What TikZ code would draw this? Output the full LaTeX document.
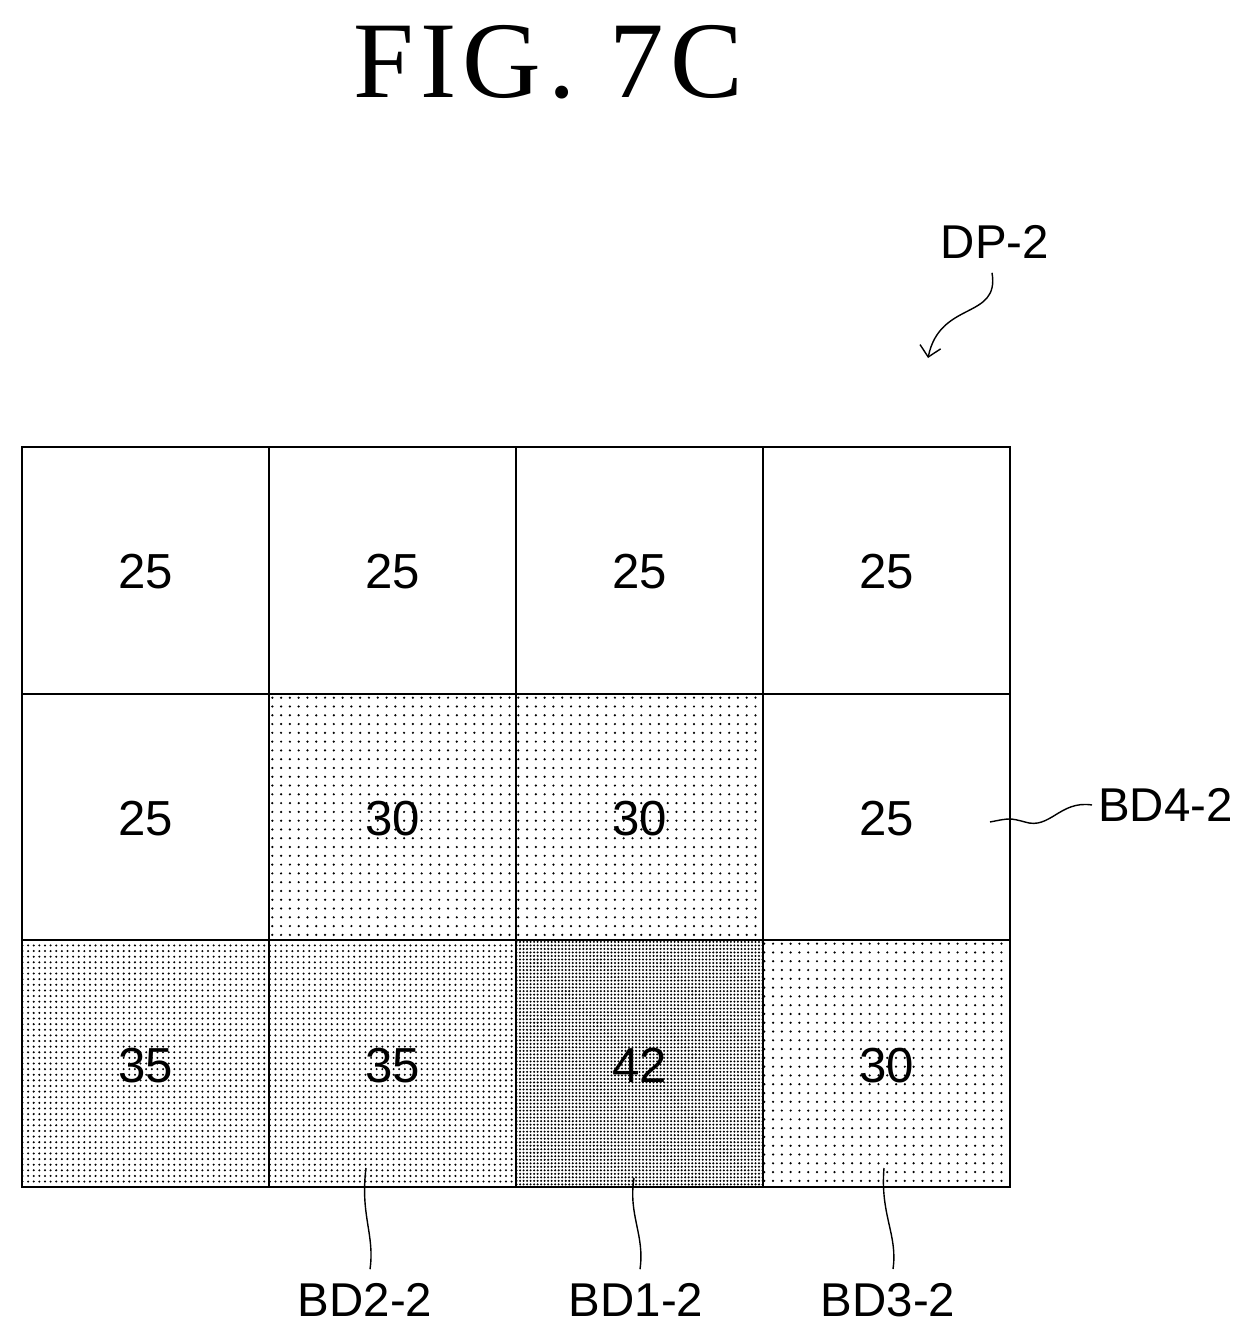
\documentclass[tikz,border=0pt]{standalone}
\usepackage{fontspec}
\setmainfont{Liberation Sans}
\newfontfamily\figfont[LetterSpace=6]{Liberation Serif}
\usetikzlibrary{patterns.meta,arrows.meta}
\begin{document}
\begin{tikzpicture}[
 x=0.02cm, y=-0.02cm,
 cell/.style={draw=black, line width=1.2pt},
 num/.style={font=\fontsize{28}{30}\selectfont},
 lbl/.style={font=\fontsize{27}{30}\selectfont},
 plain/.style={},
 sparse/.style={pattern={Dots[distance=5pt, radius=0.7pt]}},
 medium/.style={pattern={Dots[distance=3.2pt, radius=0.65pt]}},
 dense/.style={pattern={Dots[distance=2pt, radius=0.65pt]}},
 leader/.style={line width=0.8pt}
]
\useasboundingbox (0,0) rectangle (1252,1339);

% Title
\node[font=\figfont\fontsize{62}{64}\selectfont] (title) at (548,62) {FIG. 7C};

% Cells (value, column, row, fill)
\foreach \v/\c/\r/\f in {25/0/0/plain, 25/1/0/plain, 25/2/0/plain, 25/3/0/plain,
  25/0/1/plain, 30/1/1/sparse, 30/2/1/sparse, 25/3/1/plain,
  35/0/2/medium, 35/1/2/medium, 42/2/2/dense, 30/3/2/sparse} {
 \path[cell, \f] (22+247*\c,447+246.7*\r) rectangle ++(247,246.7);
 \node[num] (c\c\r) at (145.5+247*\c,572+246.7*\r) {\v};
}
\draw[cell] (22,447) rectangle (1010,1187);

% Labels
\node[lbl] (dp) at (995,242) {DP-2};
\node[lbl, anchor=west] (bd4) at (1092,805) {BD4-2};
\node[lbl] (bd2) at (365,1300) {BD2-2};
\node[lbl] (bd1) at (636,1300) {BD1-2};
\node[lbl] (bd3) at (888,1300) {BD3-2};

% Leaders
\draw[leader, -{Straight Barb[length=6pt]}] (dp.south) ++(-3,8) .. controls (1000,320) and (940,300) .. (928,358);
\draw[leader] (bd4.west) .. controls (1060,800) and (1050,830) .. (1025,822) .. controls (1010,818) .. (990,822);
\draw[leader] (bd2.north) ++(5,-8) .. controls (375,1235) and (360,1215) .. (366,1168);
\draw[leader] (bd1.north) ++(4,-8) .. controls (645,1235) and (628,1215) .. (634,1178);
\draw[leader] (bd3.north) ++(5,-8) .. controls (898,1235) and (880,1215) .. (884,1168);
\end{tikzpicture}
\end{document}
